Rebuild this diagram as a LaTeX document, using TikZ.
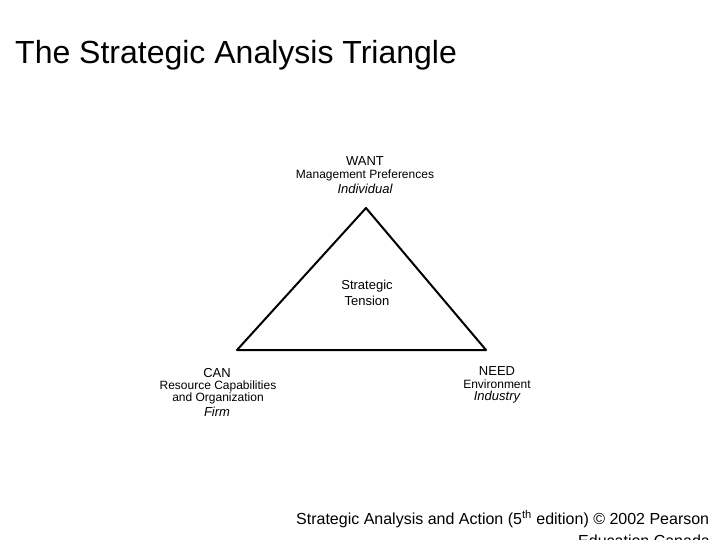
\documentclass[tikz,border=0pt]{standalone}
\usepackage{fontspec}
\setmainfont{Liberation Sans}
\begin{document}
\begin{tikzpicture}[x=1pt,y=-1pt,
  big/.style={font=\fontsize{13}{14}\selectfont,inner sep=0pt},
  small/.style={font=\fontsize{12}{12}\selectfont,inner sep=0pt,align=center}]
\useasboundingbox (0,0) rectangle (720,540);
\node[anchor=west,inner sep=0pt,font=\fontsize{32}{34}\selectfont] (title) at (15,55) {The Strategic Analysis Triangle};
\coordinate (top) at (366,208);
\coordinate (left) at (237,350);
\coordinate (right) at (486,350);
\draw[line width=2pt,line join=round] (top) -- (left) -- (right) -- cycle;
\node[big] (want) at (365,161) {WANT};
\node[small] (mp) at (365,175) {Management Preferences};
\node[big,font=\fontsize{13}{14}\selectfont\itshape] (ind) at (365,189) {Individual};
\node[big,align=center,font=\fontsize{13}{16}\selectfont] (st) at (367,293) {Strategic\\Tension};
\node[big] (can) at (217,373) {CAN};
\node[small] (rc) at (218,392) {Resource Capabilities\\and Organization};
\node[big,font=\fontsize{13}{14}\selectfont\itshape] (firm) at (217,412) {Firm};
\node[big] (need) at (497,371) {NEED};
\node[small] (env) at (497,384) {Environment};
\node[big,font=\fontsize{13}{14}\selectfont\itshape] (indu) at (497,397) {Industry};
\node[anchor=west,inner sep=0pt,font=\fontsize{16}{17}\selectfont] (foot) at (296,519) {Strategic Analysis and Action (5\textsuperscript{th} edition) © 2002 Pearson};
\node[anchor=west,inner sep=0pt,font=\fontsize{16}{17}\selectfont] (foot2) at (578,541) {Education Canada};
\end{tikzpicture}
\end{document}
